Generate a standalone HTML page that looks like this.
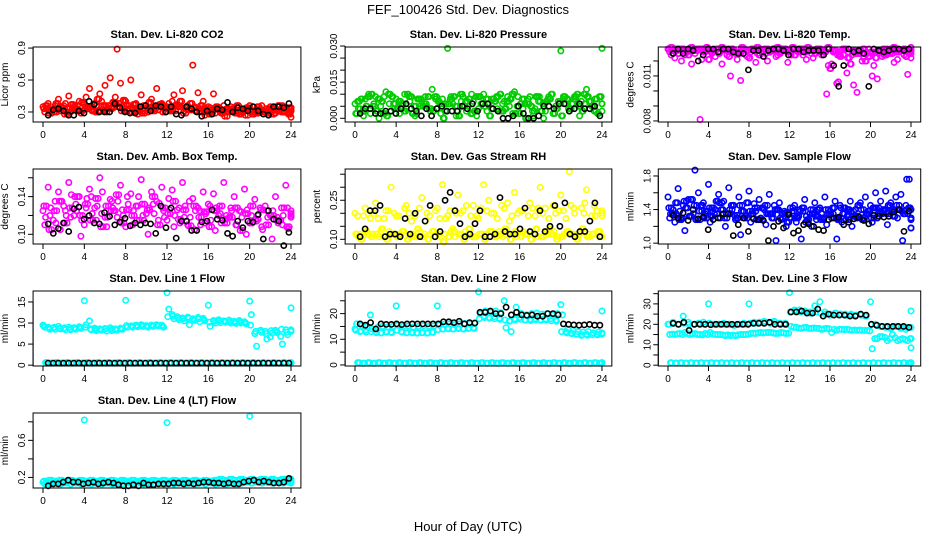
<!DOCTYPE html>
<html><head><meta charset="utf-8"><title>FEF_100426 Std. Dev. Diagnostics</title>
<style>
html,body{margin:0;padding:0;background:#fff;}
svg{display:block;font-family:"Liberation Sans",Arial,sans-serif;}
</style></head>
<body>
<svg id="chart" width="936" height="540" viewBox="0 0 936 540" xmlns="http://www.w3.org/2000/svg">
<rect width="936" height="540" fill="#fff"/>
<text x="468" y="14" text-anchor="middle" font-size="13">FEF_100426  Std. Dev. Diagnostics</text>
<text x="468" y="531" text-anchor="middle" font-size="13">Hour of Day (UTC)</text>
</svg>
<script>
// ---------- data ----------
const hourTicks = [0,4,8,12,16,20,24];
const co2A=[.35,.38,.33,.42,.36,.45,.34,.40,.37,.52,.38,.47,.55,.62,.44,.57,.40,.60,.38,.46,.36,.42,.52,.38,.35,.40,.37,.50,.36,.74,.48,.40,.35,.47,.32,.36,.30,.34,.28,.32,.36,.30,.33,.31,.35,.29,.33,.32,.25];
const co2B=[.30,.32,.36,.31,.38,.30,.34,.29,.44,.32,.36,.40,.30,.33,.89,.35,.31,.33,.28,.31,.30,.35,.32,.34,.38,.46,.36,.31,.33,.35,.30,.27,.34,.29,.33,.30,.35,.31,.28,.34,.30,.32,.36,.30,.34,.31,.36,.30,.33];
const co2C=[.33,.29,.30,.35,.28,.33,.36,.31,.33,.35,.30,.31,.36,.34,.38,.31,.36,.30,.33,.29,.34,.31,.36,.30,.33,.31,.35,.29,.32,.34,.33,.30,.28,.33,.31,.26,.33,.29,.32,.27,.31,.29,.30,.33,.28,.32,.30,.34,.31];
const co2D=[.36,.31,.38,.34,.30,.37,.32,.39,.35,.31,.42,.36,.33,.39,.35,.41,.33,.37,.31,.36,.39,.33,.37,.35,.31,.36,.40,.34,.38,.31,.36,.33,.30,.35,.29,.33,.31,.36,.30,.34,.28,.35,.31,.29,.33,.36,.30,.28,.34];
const co2K=[.27,.32,.33,.31,.27,.27,.31,.29,.40,.37,.30,.30,.30,.38,.34,.30,.29,.29,.35,.36,.31,.36,.35,.30,.35,.28,.27,.35,.33,.30,.26,.31,.28,.33,.32,.39,.30,.34,.33,.31,.35,.31,.28,.27,.35,.35,.34,.38];
const presA=[.006,.004,.008,.002,.009,.005,.011,.003,.008,.006,.004,.009,.002,.007,.005,.012,.004,.008,.029,.006,.003,.009,.005,.007,.004,.010,.006,.008,.003,.007,.005,.011,.002,.006,.009,.004,.007,.003,.008,.005,.028,.006,.004,.009,.007,.012,.005,.008,.029];
const presB=[.002,.008,.005,.010,.003,.007,.001,.009,.004,.006,.010,.002,.008,.005,.009,.003,.007,.000,.006,.009,.001,.005,.008,.003,.009,.005,.001,.007,.010,.004,.008,.002,.006,.000,.005,.009,.003,.007,.010,.004,.001,.008,.006,.010,.003,.009,.005,.002,.006];
const presC=[.004,.001,.010,.006,.000,.009,.006,.004,.002,.010,.007,.001,.005,.009,.003,.008,.002,.006,.009,.001,.007,.003,.010,.001,.006,.003,.008,.004,.006,.009,.002,.009,.004,.008,.001,.007,.000,.009,.004,.006,.008,.003,.009,.001,.006,.004,.008,.009,.003];
const presD=[.007,.003,.009,.005,.008,.002,.010,.006,.007,.003,.009,.005,.008,.006,.004,.009,.006,.003,.008,.005,.010,.007,.002,.009,.006,.008,.004,.009,.003,.007,.010,.005,.008,.006,.003,.009,.006,.008,.002,.007,.009,.004,.008,.005,.010,.007,.003,.009,.006];
const presK=[.002,.004,.004,.002,.002,.003,.003,.002,.004,.006,.004,.003,.001,.004,.001,.004,.005,.003,.003,.003,.005,.004,.006,.003,.006,.006,.004,.003,.000,.000,.001,.005,.002,.000,.000,.001,.005,.005,.004,.006,.006,.003,.004,.006,.004,.004,.005,.001];
const tempA=[.0128,.0127,.0125,.0128,.0124,.0127,.0128,.0126,.0121,.0127,.0125,.0128,.0123,.0127,.0125,.0128,.0122,.0127,.0124,.0128,.0126,.0127,.0125,.0128,.0127,.0124,.0128,.0126,.0127,.0125,.0128,.0126,.0115,.0127,.0123,.0128,.0118,.0125,.0127,.0120,.0126,.0122,.0127,.0124,.0128,.0126,.0127,.0123,.0127];
const tempB=[.0126,.0122,.0128,.0124,.0127,.0125,.0081,.0126,.0127,.0123,.0126,.0128,.0110,.0125,.0107,.0124,.0126,.0119,.0128,.0125,.0127,.0123,.0126,.0128,.0124,.0127,.0126,.0121,.0125,.0128,.0124,.0098,.0118,.0105,.0127,.0112,.0124,.0099,.0120,.0125,.0110,.0108,.0123,.0128,.0125,.0121,.0127,.0111,.0125];
const tempC=[.0124,.0128,.0120,.0127,.0118,.0128,.0121,.0127,.0125,.0128,.0118,.0124,.0128,.0121,.0127,.0123,.0128,.0125,.0127,.0120,.0128,.0124,.0127,.0119,.0128,.0126,.0124,.0127,.0122,.0126,.0127,.0117,.0126,.0106,.0124,.0126,.0104,.0127,.0122,.0128,.0117,.0126,.0124,.0127,.0119,.0126,.0124,.0128,.0122];
const tempD=[.0129,.0127,.0128,.0126,.0129,.0127,.0128,.0129,.0126,.0128,.0129,.0127,.0128,.0126,.0129,.0127,.0128,.0129,.0126,.0128,.0127,.0129,.0128,.0126,.0129,.0127,.0128,.0129,.0127,.0128,.0126,.0129,.0127,.0124,.0128,.0122,.0127,.0125,.0128,.0123,.0126,.0127,.0128,.0125,.0129,.0127,.0128,.0126,.0129];
const tempK=[.0125,.0128,.0125,.0128,.0127,.0120,.0124,.0128,.0128,.0126,.0128,.0128,.0126,.0125,.0125,.0114,.0127,.0127,.0123,.0127,.0128,.0128,.0127,.0124,.0128,.0128,.0126,.0127,.0127,.0127,.0124,.0128,.0117,.0103,.0117,.0128,.0126,.0127,.0125,.0103,.0128,.0127,.0126,.0127,.0128,.0128,.0127,.0128];
const boxA=[.125,.150,.115,.145,.130,.155,.120,.140,.110,.148,.128,.160,.118,.137,.125,.152,.108,.143,.130,.158,.122,.145,.135,.150,.115,.147,.126,.155,.110,.138,.128,.145,.132,.143,.120,.155,.118,.140,.125,.148,.112,.137,.128,.130,.120,.140,.115,.152,.125];
const boxB=[.110,.120,.135,.105,.125,.118,.132,.098,.128,.140,.115,.122,.108,.135,.118,.126,.140,.110,.130,.120,.100,.132,.115,.125,.138,.108,.128,.118,.135,.105,.125,.112,.130,.104,.122,.116,.128,.110,.124,.100,.120,.114,.108,.125,.095,.118,.110,.128,.120];
const boxC=[.130,.105,.125,.135,.112,.128,.140,.120,.132,.115,.138,.108,.130,.125,.142,.112,.126,.120,.115,.132,.126,.140,.110,.128,.122,.135,.116,.126,.109,.130,.118,.124,.108,.125,.130,.112,.118,.128,.104,.122,.130,.116,.126,.110,.120,.115,.128,.108,.122];
const boxD=[.118,.128,.112,.135,.120,.142,.125,.115,.138,.122,.130,.145,.118,.128,.135,.120,.132,.125,.140,.115,.128,.122,.133,.118,.126,.120,.112,.130,.118,.125,.110,.122,.115,.128,.112,.120,.125,.110,.118,.126,.112,.120,.105,.118,.125,.112,.120,.106,.118];
const boxK=[.111,.101,.106,.112,.103,.127,.129,.116,.120,.112,.111,.123,.119,.110,.113,.117,.109,.112,.110,.112,.111,.101,.130,.107,.128,.096,.114,.114,.104,.104,.113,.114,.126,.116,.115,.101,.098,.114,.107,.114,.113,.121,.095,.125,.116,.114,.088,.102];
const rhA=[.20,.12,.22,.18,.24,.13,.21,.30,.19,.12,.23,.17,.11,.26,.20,.13,.22,.31,.19,.14,.27,.21,.12,.23,.18,.31,.25,.20,.13,.22,.17,.28,.21,.12,.24,.19,.30,.22,.14,.20,.27,.18,.23,.12,.22,.29,.19,.21,.20];
const rhB=[.12,.10,.13,.11,.12,.14,.10,.12,.11,.13,.10,.12,.14,.11,.10,.13,.12,.09,.11,.13,.12,.10,.14,.11,.12,.10,.13,.11,.12,.14,.10,.13,.11,.12,.10,.14,.11,.13,.12,.10,.11,.13,.12,.10,.14,.11,.12,.13,.11];
const rhC=[.11,.19,.12,.20,.11,.18,.13,.20,.12,.22,.11,.19,.13,.17,.12,.21,.11,.18,.13,.20,.12,.23,.11,.19,.12,.21,.13,.18,.11,.24,.12,.20,.13,.19,.12,.22,.11,.18,.13,.21,.12,.36,.20,.12,.24,.11,.19,.13,.21];
const rhD=[.19,.11,.20,.12,.18,.11,.21,.12,.19,.13,.20,.11,.22,.12,.19,.11,.18,.12,.21,.11,.20,.13,.19,.11,.22,.12,.20,.11,.23,.12,.19,.11,.21,.12,.22,.11,.20,.12,.23,.11,.21,.13,.22,.11,.20,.12,.23,.11,.19];
const rhK=[.11,.14,.21,.21,.23,.11,.12,.12,.11,.18,.12,.20,.11,.17,.23,.11,.13,.25,.28,.21,.16,.11,.12,.16,.21,.11,.11,.12,.26,.13,.12,.12,.14,.22,.13,.12,.21,.13,.15,.23,.15,.24,.12,.11,.13,.13,.17,.24,.11];
const flowA=[1.55,1.40,1.65,1.45,1.52,1.35,1.60,1.48,1.70,1.42,1.58,1.50,1.66,1.45,1.55,1.38,1.62,1.47,1.52,1.40,1.58,1.45,1.48,1.38,1.30,1.45,1.40,1.52,1.35,1.48,1.42,1.55,1.38,1.50,1.45,1.42,1.50,1.40,1.48,1.55,1.45,1.60,1.50,1.62,1.48,1.55,1.58,1.45,1.40];
const flowB=[1.30,1.25,1.38,1.15,1.32,1.87,1.28,1.35,1.25,1.40,1.30,1.20,1.35,1.28,1.10,1.32,1.25,1.38,1.30,1.22,1.35,1.03,1.28,1.20,1.30,1.25,1.05,1.32,1.20,1.28,1.35,1.22,1.30,1.05,1.25,1.32,1.20,1.30,1.28,1.35,1.25,1.30,1.35,1.22,1.38,1.30,1.03,1.35,1.28];
const flowC=[1.42,1.35,1.28,1.50,1.32,1.45,1.38,1.30,1.42,1.35,1.48,1.30,1.40,1.33,1.45,1.30,1.38,1.42,1.28,1.45,1.35,1.40,1.30,1.36,1.42,1.30,1.38,1.25,1.40,1.32,1.28,1.40,1.35,1.30,1.42,1.28,1.38,1.32,1.40,1.35,1.30,1.42,1.38,1.35,1.40,1.45,1.38,1.76,1.18];
const flowD=[1.35,1.48,1.30,1.42,1.52,1.28,1.45,1.38,1.32,1.50,1.40,1.35,1.45,1.30,1.38,1.48,1.35,1.28,1.42,1.35,1.30,1.40,1.35,1.25,1.38,1.32,1.42,1.28,1.35,1.40,1.30,1.35,1.42,1.28,1.35,1.40,1.32,1.45,1.30,1.38,1.42,1.35,1.40,1.45,1.32,1.40,1.35,1.42,1.30];
const flowK=[1.33,1.30,1.36,1.27,1.40,1.29,1.31,1.16,1.28,1.30,1.35,1.35,1.09,1.22,1.30,1.14,1.29,1.28,1.27,1.03,1.20,1.26,1.18,1.34,1.12,1.15,1.22,1.23,1.20,1.16,1.15,1.28,1.30,1.31,1.22,1.25,1.29,1.31,1.27,1.23,1.33,1.32,1.31,1.32,1.37,1.40,1.14,1.38];
const l1A=[9.5,9.0,8.8,9.2,8.7,9.0,8.9,9.1,15.3,10.5,8.8,8.6,8.7,8.9,8.6,8.8,15.4,9.3,9.5,9.6,9.4,9.5,9.6,9.5,17.2,12.0,11.5,11.2,11.4,11.0,11.3,11.1,14.2,10.6,10.8,10.5,10.7,10.4,10.6,10.3,15.2,7.5,8.2,8.0,6.7,8.3,6.8,8.4,13.6];
const l1B=[9.0,8.5,8.5,8.6,8.4,8.4,8.5,8.7,9.6,8.4,8.2,8.3,8.1,8.2,8.3,8.5,9.0,9.0,9.1,9.2,9.0,9.2,9.3,9.0,13.3,11.0,10.8,10.5,9.6,10.6,10.3,10.5,9.2,10.0,10.1,10.2,10.0,9.9,10.0,9.8,12.0,4.5,7.8,6.2,7.6,7.7,5.0,7.2,8.0];
const l1D=[9.2,8.8,9.0,8.7,8.9,8.6,8.8,9.0,9.0,8.6,8.5,8.4,8.6,8.5,8.4,8.6,9.4,9.3,9.4,9.5,9.3,9.4,9.5,9.2,11.5,11.6,11.2,11.0,11.1,10.8,11.0,10.8,10.2,10.4,10.5,10.4,10.3,10.2,10.3,10.1,9.5,8.0,8.3,7.5,8.2,8.0,8.5,7.8,8.4];
const l1C=[0.6,0.5,0.6,0.5,0.6,0.5,0.6,0.5,0.6,0.5,0.6,0.5,0.6,0.5,0.6,0.5,0.6,0.5,0.6,0.5,0.6,0.5,0.6,0.5,0.6,0.5,0.6,0.5,0.6,0.5,0.6,0.5,0.6,0.5,0.6,0.5,0.6,0.5,0.6,0.5,0.6,0.5,0.6,0.5,0.6,0.5,0.6,0.5,0.6];
const l1K=[0.5,0.5,0.5,0.5,0.5,0.5,0.5,0.5,0.5,0.5,0.5,0.5,0.5,0.5,0.5,0.5,0.5,0.5,0.5,0.5,0.5,0.5,0.5,0.5,0.5,0.5,0.5,0.5,0.5,0.5,0.5,0.5,0.5,0.5,0.5,0.5,0.5,0.5,0.5,0.5,0.5,0.5,0.5,0.5,0.5,0.5,0.5,0.5];
const l2A=[14,13,13.5,19.5,13,12.5,13,12.8,23,13,12.5,12.7,12.5,12.6,12.4,12.8,23,14,14.2,14,14.3,14.1,14.2,14.5,28.5,19,18.5,18.8,18.2,25,17,18,18.5,17.5,17.8,18,17.6,17.9,18,17.5,23.5,13,12.5,12,11.5,12,11.8,12,21];
const l2B=[16,15.5,15,14,14.5,15,14.8,15,15.5,15,15.2,14.8,15,15.3,15,15.2,15.5,15.8,16,15.7,16,16.2,16,16.5,20,21,20.5,21,20.3,14.5,13,22.5,20,19.5,20,20.2,19.8,20,19.5,20,19.5,14,13.5,13,12.8,13,12.5,12.8,12.5];
const l2D=[13.5,13.2,12.8,13,12.6,12.5,12.8,12.6,13.5,12.8,12.6,12.5,12.4,12.6,12.5,12.7,13.8,14,14.1,14,14.2,14,14.3,14.2,18,18.5,18.2,18,17.8,17.5,17.2,17.6,17.8,17.5,17.3,17.6,17.4,17.5,17.2,17,13,12.5,12.2,12,11.8,11.6,11.8,11.7,12];
const l2C=[0.9,0.7,0.9,0.7,0.9,0.7,0.9,0.7,0.9,0.7,0.9,0.7,0.9,0.7,0.9,0.7,0.9,0.7,0.9,0.7,0.9,0.7,0.9,0.7,0.9,0.7,0.9,0.7,0.9,0.7,0.9,0.7,0.9,0.7,0.9,0.7,0.9,0.7,0.9,0.7,0.9,0.7,0.9,0.7,0.9,0.7,0.9,0.7,0.9];
const l2K=[16,15.5,16.5,14,16,15.8,15.8,16,15.7,16,16,16,16,16,16,16,16.8,16.8,16.5,17,16,16.5,16.3,20.5,20.5,21,20,20,22.5,19.5,20.5,19.5,19.3,19.5,19,19,20,20,19.5,16,15.8,15.6,15.5,15.6,15.8,15.5,15.5];
const l3A=[20,21,20,24,21,20,20.5,21,30,20,20,20.5,20,19.5,20,20.5,30,21,21,21.5,21,21.5,20.5,20,35.5,27,27,26.5,26,29,31,26,24.5,25.5,25,25,24.5,24,25,24,31,20,19,18.5,18,19,18,17.5,26.5];
const l3B=[15,15,15.5,16,15,15.5,15,15.5,16,15,15,14.5,14.5,14.5,15,15,15.5,15.5,16,16,16,15.5,16,15.5,19,18.5,18,18.5,18,18,17.5,18,16,17,17.5,17.5,17,17,17,17,8,13,14,12,15,12,13,12,8.5];
const l3D=[20,20.5,20,20.5,20,20,20.5,20,20.5,20,20,20,20,19.5,20,20,20.5,20.5,21,21,20.5,21,20.5,20.5,26,26.5,26,26,25.5,26,25.5,25,25,25.5,25,24.5,25,24.5,24.5,24,20,19.5,19,19,18.5,19,18.5,18.5,18.5];
const l3E=[15.2,15.3,15,15.5,15.2,15,14.8,15,15.2,15,14.8,14.8,14.7,14.8,15,15.2,15.6,15.8,15.8,16,15.8,15.6,15.8,15.6,18.5,18.2,18.4,18,18.2,18,17.8,17.8,17.5,17.6,17.4,17.3,17.2,17.2,17,16.8,13,14,13.5,13,13.5,12.5,12.5,13,13];
const l3C=[1.2,1.0,1.2,1.0,1.2,1.0,1.2,1.0,1.2,1.0,1.2,1.0,1.2,1.0,1.2,1.0,1.2,1.0,1.2,1.0,1.2,1.0,1.2,1.0,1.2,1.0,1.2,1.0,1.2,1.0,1.2,1.0,1.2,1.0,1.2,1.0,1.2,1.0,1.2,1.0,1.2,1.0,1.2,1.0,1.2,1.0,1.2,1.0,1.2];
const l3K=[20.5,20,21,17,20,20,20,19.8,20,20,20,20,20,20,20,20.5,20.5,20.5,21,20,20,20,26,26,26.5,25.5,25.5,27.5,24,25,24.5,24.5,24.5,24,24,25,24.5,20,19.5,19,19,19,19,19,18.5];
const l4A=[0.15,0.14,0.16,0.15,0.14,0.16,0.15,0.16,0.82,0.15,0.14,0.16,0.15,0.14,0.15,0.16,0.15,0.14,0.15,0.16,0.14,0.15,0.16,0.14,0.79,0.15,0.16,0.15,0.14,0.16,0.15,0.16,0.15,0.16,0.17,0.16,0.15,0.17,0.16,0.15,0.86,0.17,0.16,0.18,0.16,0.17,0.16,0.17,0.16];
const l4B=[0.13,0.13,0.14,0.13,0.14,0.13,0.14,0.13,0.14,0.13,0.14,0.13,0.14,0.13,0.14,0.13,0.14,0.13,0.14,0.13,0.14,0.13,0.14,0.13,0.14,0.13,0.14,0.13,0.14,0.13,0.14,0.13,0.14,0.13,0.14,0.13,0.14,0.13,0.14,0.15,0.14,0.15,0.14,0.15,0.14,0.15,0.14,0.15,0.14];
const l4C=[0.16,0.17,0.16,0.17,0.16,0.17,0.16,0.17,0.16,0.17,0.16,0.17,0.16,0.17,0.16,0.17,0.16,0.17,0.16,0.17,0.16,0.17,0.16,0.17,0.16,0.17,0.16,0.17,0.16,0.17,0.16,0.17,0.16,0.17,0.18,0.17,0.18,0.17,0.18,0.17,0.18,0.17,0.18,0.17,0.18,0.17,0.18,0.17,0.18];
const l4K=[.11,.13,.13,.15,.17,.15,.15,.13,.14,.15,.13,.14,.15,.14,.12,.11,.11,.12,.11,.14,.12,.12,.13,.13,.13,.14,.14,.13,.14,.13,.14,.15,.15,.14,.14,.13,.14,.13,.13,.15,.16,.17,.15,.16,.15,.14,.14,.15,.19];

const co2Ticks=[0.3,0.6,0.9], presTicks=[0,0.005,0.010,0.015,0.020,0.025,0.030], presLabels=['0.000','','','0.015','','','0.030'];
const tempTicks=[0.008,0.009,0.010,0.011,0.012], tempLabels=['0.008','','','0.011',''];
const boxTicks=[0.10,0.12,0.14,0.16], boxLabels=['0.10','','0.14',''];
const rhTicks=[0.10,0.15,0.20,0.25,0.30,0.35], rhLabels=['0.10','','','0.25','',''];
const flowTicks=[1.0,1.2,1.4,1.6,1.8], flowLabels=['1.0','','1.4','','1.8'];
const l1Ticks=[0,5,10,15], l2Ticks=[0,5,10,15,20,25], l2Labels=['0','','10','','20',''];
const l3Ticks=[0,5,10,15,20,25,30,35], l3Labels=['0','','10','','20','','30',''];
const l4Ticks=[0.2,0.4,0.6,0.8], l4Labels=['0.2','','0.6',''];

// ---------- layout ----------
const cols=[{x0:43,k:10.333},{x0:355,k:10.29},{x0:668,k:10.125}];
const rowTops=[47,169,291,413];
const H=75;
const panels=[
 {name:'co2',title:'Stan. Dev. Li-820 CO2',ylab:'Licor ppm',c:0,r:0,ymin:0.206,ymax:0.91,col:'#ff0000',layers:[co2A,co2B,co2C,co2D,co2C,co2D],blk:co2K,ticks:co2Ticks,labels:['0.3','0.6','0.9']},
 {name:'pressure',title:'Stan. Dev. Li-820 Pressure',ylab:'kPa',c:1,r:0,ymin:-0.00154,ymax:0.0296,col:'#00cc00',layers:[presA,presB,presC,presD,presB,presD],blk:presK,ticks:presTicks,labels:presLabels},
 {name:'temp',title:'Stan. Dev. Li-820 Temp.',ylab:'degrees C',c:2,r:0,ymin:0.00793,ymax:0.01293,col:'#ff00ff',layers:[tempA,tempB,tempC,tempD,tempA,tempD],blk:tempK,ticks:tempTicks,labels:tempLabels},
 {name:'amb-box',title:'Stan. Dev. Amb. Box Temp.',ylab:'degrees C',c:0,r:1,ymin:0.0897,ymax:0.1693,col:'#ff00ff',layers:[boxA,boxB,boxC,boxD,boxC],blk:boxK,ticks:boxTicks,labels:boxLabels},
 {name:'rh',title:'Stan. Dev. Gas Stream RH',ylab:'percent',c:1,r:1,ymin:0.082,ymax:0.37,col:'#ffff00',layers:[rhA,rhB,rhC,rhD,rhB],blk:rhK,ticks:rhTicks,labels:rhLabels},
 {name:'sample-flow',title:'Stan. Dev. Sample Flow',ylab:'ml/min',c:2,r:1,ymin:0.99,ymax:1.883,col:'#0000ff',layers:[flowA,flowB,flowC,flowD,flowC,flowD],blk:flowK,ticks:flowTicks,labels:flowLabels},
 {name:'line1',title:'Stan. Dev. Line 1 Flow',ylab:'ml/min',c:0,r:2,ymin:-0.2,ymax:17.6,col:'#00ffff',layers:[l1A,l1B,l1C,l1C,l1D,l1C],blk:l1K,ticks:l1Ticks,labels:['0','5','10','15']},
 {name:'line2',title:'Stan. Dev. Line 2 Flow',ylab:'ml/min',c:1,r:2,ymin:-0.4,ymax:28.8,col:'#00ffff',layers:[l2A,l2B,l2C,l2C,l2D,l2C],blk:l2K,ticks:l2Ticks,labels:l2Labels},
 {name:'line3',title:'Stan. Dev. Line 3 Flow',ylab:'ml/min',c:2,r:2,ymin:-0.4,ymax:36.3,col:'#00ffff',layers:[l3A,l3B,l3C,l3C,l3D,l3E],blk:l3K,ticks:l3Ticks,labels:l3Labels},
 {name:'line4',title:'Stan. Dev. Line 4 (LT) Flow',ylab:'ml/min',c:0,r:3,ymin:0.086,ymax:0.895,col:'#00ffff',layers:[l4A,l4B,l4C,l4B,l4C],blk:l4K,ticks:l4Ticks,labels:l4Labels}
];
const offs=[0,0.17,0.33,0.25,0.08,0.42];
const NS='http://www.w3.org/2000/svg';
const svg=document.getElementById('chart');
function mk(tag,attrs,parent){const e=document.createElementNS(NS,tag);for(const a in attrs)e.setAttribute(a,attrs[a]);(parent||svg).appendChild(e);return e;}

panels.forEach(p=>{
  const cc=cols[p.c], top=rowTops[p.r], bot=top+H;
  const left=cc.x0-0.96*cc.k, right=cc.x0+24.96*cc.k;
  const xs=t=>cc.x0+t*cc.k;
  const ys=v=>bot-(v-p.ymin)/(p.ymax-p.ymin)*H;
  const g=mk('g',{});
  
  
  const t=mk('text',{x:(left+right)/2,y:top-9,'text-anchor':'middle','font-size':11,'font-weight':'bold'},g);
  t.textContent=p.title;
  
  
  const pts=mk('g',{fill:'none','stroke-width':1.6},g);
  
  
  p.layers.forEach((arr,li)=>{
    const n=arr.length;
    arr.forEach((v,i)=>{
      const hr=Math.min(24,i*24/(n-1)+offs[li]);
      const c=mk('circle',{cx:xs(hr).toFixed(1),cy:ys(v).toFixed(1),r:2.7,stroke:p.col},pts);
      
      
    });
  });
  const bg=mk('g',{fill:'none','stroke-width':1.6},g);
  
  
  const nb=p.blk.length;
  p.blk.forEach((v,i)=>{
    const hr=0.5+i*23.3/(nb-1);
    const c=mk('circle',{cx:xs(hr).toFixed(1),cy:ys(v).toFixed(1),r:2.6,stroke:'#000'},bg);
    
    
  });
  const box=mk('rect',{x:left,y:top,width:right-left,height:H,fill:'none',stroke:'#000','stroke-width':1},g);
  
  
  const xa=mk('g',{},g);
  
  
  mk('line',{x1:xs(0),x2:xs(24),y1:bot,y2:bot,stroke:'#000'},xa);
  hourTicks.forEach(h=>{
    mk('line',{x1:xs(h),x2:xs(h),y1:bot,y2:bot+5,stroke:'#000'},xa);
    const lt=mk('text',{x:xs(h),y:bot+16,'text-anchor':'middle','font-size':10},xa);
    lt.textContent=h;
  });
  const ya=mk('g',{},g);
  
  
  mk('line',{x1:left,x2:left,y1:ys(p.ticks[0]),y2:ys(p.ticks[p.ticks.length-1]),stroke:'#000'},ya);
  p.ticks.forEach((v,i)=>{
    const y=ys(v);
    mk('line',{x1:left-5,x2:left,y1:y,y2:y,stroke:'#000'},ya);
    if(p.labels[i]){
      const lt=mk('text',{x:left-8,y:y,'text-anchor':'middle','font-size':10,transform:`rotate(-90 ${left-8} ${y})`},ya);
      lt.textContent=p.labels[i];
    }
  });
  const yl=left-25, ym=top+H/2;
  const yt=mk('text',{x:yl,y:ym,'text-anchor':'middle','font-size':10,transform:`rotate(-90 ${yl} ${ym})`},g);
  yt.textContent=p.ylab;
  
  
});
</script>
</body></html>
